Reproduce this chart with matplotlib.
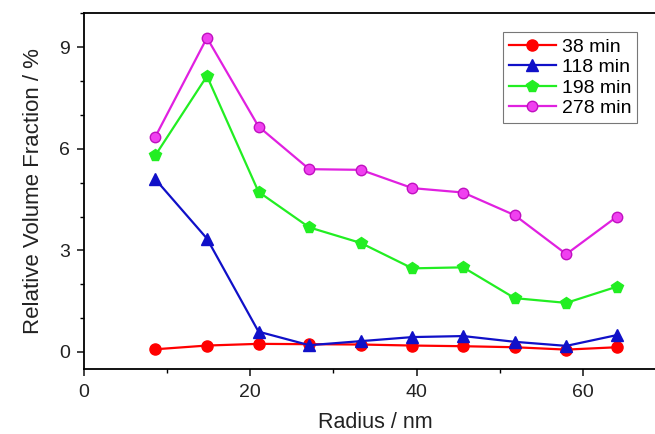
import matplotlib
matplotlib.use("Agg")
import matplotlib.pyplot as plt
from matplotlib.ticker import MultipleLocator

plt.rcParams['font.family'] = ['Liberation Sans', 'DejaVu Sans']

# DATA
radius = [8.6, 14.8, 21.0, 27.1, 33.3, 39.5, 45.6, 51.8, 58.0, 64.1]
v38 = [0.08, 0.19, 0.24, 0.23, 0.22, 0.19, 0.17, 0.14, 0.07, 0.14]
v118 = [5.10, 3.35, 0.60, 0.20, 0.32, 0.44, 0.47, 0.30, 0.18, 0.50]
v198 = [5.81, 8.15, 4.73, 3.68, 3.22, 2.47, 2.50, 1.59, 1.45, 1.93]
v278 = [6.36, 9.28, 6.66, 5.40, 5.38, 4.84, 4.71, 4.04, 2.89, 4.00]
labels = ["38 min", "118 min", "198 min", "278 min"]

fig = plt.figure(figsize=(6.55, 4.34), dpi=100)
ax = fig.add_axes([0.128, 0.150, 0.889, 0.819])

ax.plot(radius, v38, '-', marker='o', color='#ff0000', lw=1.6, ms=8, label=labels[0])
ax.plot(radius, v118, '-', marker='^', color='#1010c8', lw=1.6, ms=8, label=labels[1])
ax.plot(radius, v198, '-', marker='p', color='#22ee22', lw=1.6, ms=8.5, label=labels[2])
ax.plot(radius, v278, '-', marker='o', color='#e020e0', lw=1.6, ms=7.5,
        markerfacecolor='#f040f0', markeredgecolor='#c010c0', label=labels[3])

ax.set_xlim(0, 70)
ax.set_ylim(-0.5, 10)
ax.xaxis.set_major_locator(MultipleLocator(20))
ax.xaxis.set_minor_locator(MultipleLocator(10))
ax.yaxis.set_major_locator(MultipleLocator(3))
ax.yaxis.set_minor_locator(MultipleLocator(1))
ax.tick_params(which='major', direction='out', length=5, width=1.2, labelsize=14, colors='#222222')
ax.tick_params(which='minor', direction='out', length=3, width=1.0)
ax.tick_params(axis='x', pad=6)
ax.tick_params(axis='y', pad=5)
for s in ax.spines.values():
    s.set_linewidth(1.3)

ax.set_xlabel('Radius / nm', fontsize=15.5, labelpad=8, color='#222222')
ax.set_ylabel('Relative Volume Fraction / %', fontsize=16, labelpad=11, color='#222222')

leg = ax.legend(loc='upper right', bbox_to_anchor=(0.9725, 0.926),
                bbox_transform=fig.transFigure, fontsize=14, frameon=True,
                fancybox=False, edgecolor='#555555', handlelength=2.4,
                handletextpad=0.3, borderpad=0.3, labelspacing=0.15,
                borderaxespad=0)
leg.get_frame().set_linewidth(0.8)

fig.savefig('out.png', dpi=100)
